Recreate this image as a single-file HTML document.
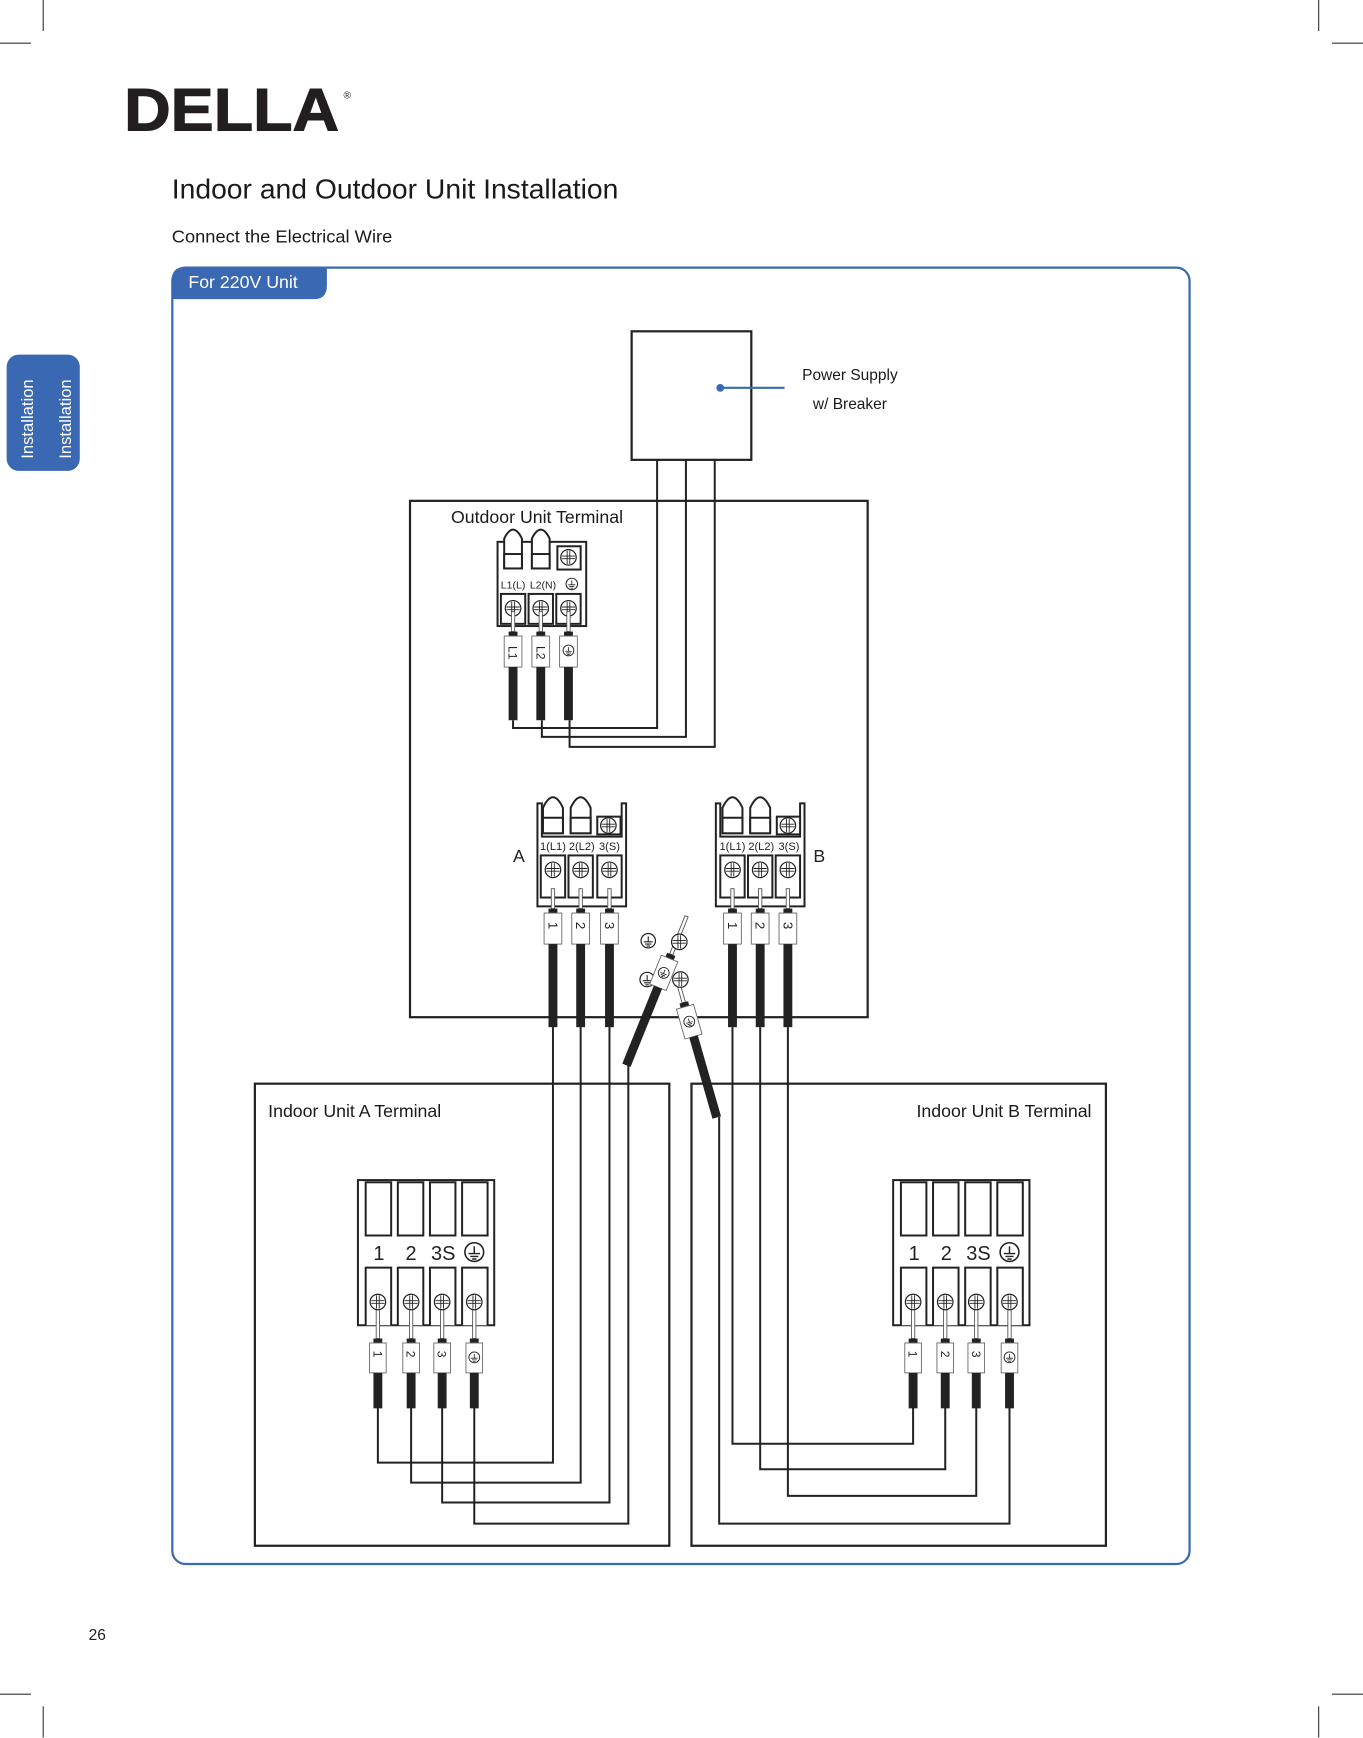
<!DOCTYPE html>
<html><head><meta charset="utf-8"><style>
html,body{margin:0;padding:0;background:#fff}
svg{display:block}
text{font-family:"Liberation Sans",Arial,sans-serif}
</style></head><body>
<svg width="1363" height="1738" viewBox="0 0 1230 1568.5" preserveAspectRatio="none" xmlns="http://www.w3.org/2000/svg">
<defs>
<g id="scr"><circle r="7" fill="#fff" stroke="#222" stroke-width="1.1"/><path d="M-6 -1.2H6M-6 1.2H6M-1.2 -6V6M1.2 -6V6" stroke="#222" stroke-width="0.8" fill="none"/></g>
<g id="gnd"><circle r="6.5" fill="#fff" stroke="#222" stroke-width="1.1"/><path d="M0 -4V1M-4 1H4M-2.8 3H2.8M-1.5 4.8H1.5" stroke="#222" stroke-width="1" fill="none"/></g>
<g id="lead"><rect x="-1.5" y="-22" width="3" height="18" fill="#fff" stroke="#555" stroke-width="0.8"/><rect x="-4" y="-4" width="8" height="4" fill="#222"/><rect x="-8" y="0" width="16" height="28" fill="#fff" stroke="#666" stroke-width="0.8"/></g>
<g id="ilead"><rect x="-1.5" y="-30" width="3" height="26" fill="#fff" stroke="#555" stroke-width="0.8"/><rect x="-4" y="-4" width="8" height="4" fill="#222"/><rect x="-7.5" y="0" width="15" height="27" fill="#fff" stroke="#666" stroke-width="0.8"/><rect x="-4" y="27" width="8" height="32" fill="#222"/></g>
</defs>

<g stroke="#333" stroke-width="1">
<path d="M39 0V28M0 39H28M1190 0V28M1202 39H1230M0 1529H28M39 1540V1568M1202 1529H1230M1190 1540V1568"/>
</g>

<text x="112" y="118" font-size="54" font-weight="bold" fill="#231f20" stroke="#231f20" stroke-width="1" textLength="194" lengthAdjust="spacingAndGlyphs">DELLA</text>
<text x="310" y="89" font-size="9" fill="#231f20">®</text>

<text x="155" y="179" font-size="25" fill="#1a1a1a" textLength="403" lengthAdjust="spacingAndGlyphs">Indoor and Outdoor Unit Installation</text>
<text x="155" y="219" font-size="16" fill="#1a1a1a" textLength="199" lengthAdjust="spacingAndGlyphs">Connect the Electrical Wire</text>

<rect x="6" y="320" width="66" height="105" rx="11" fill="#3a68b2"/>
<text transform="translate(30,414) rotate(-90)" font-size="15" fill="#fff">Installation</text>
<text transform="translate(64,414) rotate(-90)" font-size="15" fill="#fff">Installation</text>

<rect x="155.5" y="241.5" width="918" height="1170" rx="12" fill="none" stroke="#3a68b2" stroke-width="2"/>
<path d="M155 270V253Q155 241 167 241H295V258Q295 270 283 270Z" fill="#3a68b2"/>
<text x="170" y="260" font-size="16" fill="#fff">For 220V Unit</text>

<text x="80" y="1480" font-size="14" fill="#222">26</text>

<g fill="none" stroke="#222" stroke-width="2">
<rect x="570" y="299" width="108" height="116"/>
<rect x="370" y="452" width="413" height="466"/>
<rect x="230" y="978" width="374" height="417"/>
<rect x="624" y="978" width="374" height="417"/>
</g>
<line x1="650" y1="350" x2="708" y2="350" stroke="#3a68b2" stroke-width="2"/>
<circle cx="650" cy="350" r="3.5" fill="#3a68b2"/>
<text x="767" y="343" font-size="14" text-anchor="middle" fill="#1a1a1a">Power Supply</text>
<text x="767" y="369" font-size="14" text-anchor="middle" fill="#1a1a1a">w/ Breaker</text>

<text x="407" y="472" font-size="16" fill="#1a1a1a">Outdoor Unit Terminal</text>
<text x="242" y="1008" font-size="16" fill="#1a1a1a">Indoor Unit A Terminal</text>
<text x="985" y="1008" font-size="16" fill="#1a1a1a" text-anchor="end">Indoor Unit B Terminal</text>

<g fill="none" stroke="#222" stroke-width="1.8">
<path d="M593 415V657H463V650"/>
<path d="M619 415V665H489V650"/>
<path d="M645 415V674H514V650"/>
<path d="M341 1270V1320H499V927"/>
<path d="M371 1270V1338H524V927"/>
<path d="M399 1270V1356H550V927"/>
<path d="M428 1270V1375H567V961"/>
<path d="M824 1270V1303H661V927"/>
<path d="M853 1270V1326H686V927"/>
<path d="M881 1270V1350H711V927"/>
<path d="M911 1270V1375H649V1008"/>
</g>

<g stroke="#222" stroke-width="1.8" fill="#fff">
<rect x="449" y="489" width="80" height="76"/>
<path d="M455 513V486Q463 470 471 486V513Z"/><rect x="455" y="500" width="16" height="13"/>
<path d="M480 513V486Q488 470 496 486V513Z"/><rect x="480" y="500" width="16" height="13"/>
<rect x="503" y="493" width="21" height="21"/>
<rect x="452" y="536" width="22" height="27"/><rect x="477" y="536" width="22" height="27"/><rect x="502" y="536" width="22" height="27"/>
</g>
<use href="#scr" x="513" y="503"/>
<use href="#scr" x="463" y="549"/><use href="#scr" x="488" y="549"/><use href="#scr" x="513" y="549"/>
<text x="463" y="531" font-size="9.5" text-anchor="middle" fill="#222">L1(L)</text>
<text x="490" y="531" font-size="9.5" text-anchor="middle" fill="#222">L2(N)</text>
<use href="#gnd" x="516" y="527" transform="translate(516 527) scale(0.8) translate(-516 -527)"/>
<g><use href="#lead" x="463" y="574"/><use href="#lead" x="488" y="574"/><use href="#lead" x="513" y="574"/></g>
<rect x="459" y="602" width="8" height="48" fill="#222"/>
<rect x="484" y="602" width="8" height="48" fill="#222"/>
<rect x="509" y="602" width="8" height="48" fill="#222"/>
<text transform="translate(459 583) rotate(90)" font-size="11" fill="#222">L1</text>
<text transform="translate(484 583) rotate(90)" font-size="11" fill="#222">L2</text>
<use href="#gnd" x="513" y="587" transform="translate(513 587) scale(0.75) translate(-513 -587)"/>

<g stroke="#222" stroke-width="1.8" fill="#fff">
<path d="M485 818V725H489V755H561V725H565V818Z"/>
<path d="M490 752V729Q499 710 508 729V752Z"/><rect x="490" y="738" width="18" height="14"/>
<path d="M515 752V729Q524 710 533 729V752Z"/><rect x="515" y="738" width="18" height="14"/>
<rect x="539" y="737" width="21" height="16"/>
<rect x="488" y="772" width="22" height="38"/><rect x="513" y="772" width="22" height="38"/><rect x="539" y="772" width="22" height="38"/>
</g>
<use href="#scr" x="549" y="745"/>
<use href="#scr" x="499" y="785"/><use href="#scr" x="524" y="785"/><use href="#scr" x="550" y="785"/>
<text x="499" y="767" font-size="10" text-anchor="middle" fill="#222">1(L1)</text>
<text x="525" y="767" font-size="10" text-anchor="middle" fill="#222">2(L2)</text>
<text x="550" y="767" font-size="10" text-anchor="middle" fill="#222">3(S)</text>
<text x="463" y="778" font-size="16" fill="#222">A</text>

<g stroke="#222" stroke-width="1.8" fill="#fff">
<path d="M646 818V725H650V755H722V725H726V818Z"/>
<path d="M652 752V729Q661 710 670 729V752Z"/><rect x="652" y="738" width="18" height="14"/>
<path d="M677 752V729Q686 710 695 729V752Z"/><rect x="677" y="738" width="18" height="14"/>
<rect x="701" y="737" width="21" height="16"/>
<rect x="650" y="772" width="22" height="38"/><rect x="675" y="772" width="22" height="38"/><rect x="700" y="772" width="22" height="38"/>
</g>
<use href="#scr" x="711" y="745"/>
<use href="#scr" x="661" y="785"/><use href="#scr" x="686" y="785"/><use href="#scr" x="711" y="785"/>
<text x="661" y="767" font-size="10" text-anchor="middle" fill="#222">1(L1)</text>
<text x="687" y="767" font-size="10" text-anchor="middle" fill="#222">2(L2)</text>
<text x="712" y="767" font-size="10" text-anchor="middle" fill="#222">3(S)</text>
<text x="734" y="778" font-size="16" fill="#222">B</text>

<use href="#lead" x="499" y="824"/><use href="#lead" x="524" y="824"/><use href="#lead" x="550" y="824"/>
<use href="#lead" x="661" y="824"/><use href="#lead" x="686" y="824"/><use href="#lead" x="711" y="824"/>
<g fill="#222">
<rect x="495" y="852" width="8" height="75"/><rect x="520" y="852" width="8" height="75"/><rect x="546" y="852" width="8" height="75"/>
<rect x="657" y="852" width="8" height="75"/><rect x="682" y="852" width="8" height="75"/><rect x="707" y="852" width="8" height="75"/>
</g>
<g font-size="12" fill="#222">
<text transform="translate(495 832) rotate(90)">1</text><text transform="translate(520 832) rotate(90)">2</text><text transform="translate(546 832) rotate(90)">3</text>
<text transform="translate(657 832) rotate(90)">1</text><text transform="translate(682 832) rotate(90)">2</text><text transform="translate(707 832) rotate(90)">3</text>
</g>

<use href="#gnd" x="585" y="849"/><use href="#gnd" x="584" y="884"/>
<g transform="translate(599 878) rotate(22)">
<rect x="-1.5" y="-55" width="3" height="37" fill="#fff" stroke="#555" stroke-width="0.8"/>
<rect x="-4" y="-18" width="8" height="4" fill="#222"/>
<rect x="-8" y="-14" width="16" height="28" fill="#fff" stroke="#666" stroke-width="0.8"/>
<rect x="-4" y="14" width="8" height="76" fill="#222"/>
<use href="#gnd" x="0" y="0" transform="scale(0.75)"/>
</g>
<use href="#scr" x="613" y="850"/>
<g transform="translate(622 922) rotate(-16)">
<rect x="-1.5" y="-40" width="3" height="22" fill="#fff" stroke="#555" stroke-width="0.8"/>
<rect x="-4" y="-18" width="8" height="4" fill="#222"/>
<rect x="-8" y="-14" width="16" height="28" fill="#fff" stroke="#666" stroke-width="0.8"/>
<rect x="-4" y="14" width="8" height="76" fill="#222"/>
<use href="#gnd" x="0" y="0" transform="scale(0.75)"/>
</g>
<use href="#scr" x="614" y="884"/>

<g stroke="#222" stroke-width="1.8" fill="#fff">
<rect x="323" y="1065" width="123" height="131"/>
<rect x="330" y="1067" width="23" height="48"/><rect x="359" y="1067" width="23" height="48"/><rect x="388" y="1067" width="23" height="48"/><rect x="417" y="1067" width="23" height="48"/>
<path d="M330 1196V1144H353V1196M359 1196V1144H382V1196M388 1196V1144H411V1196M417 1196V1144H440V1196"/>
</g>
<g font-size="18" fill="#222" text-anchor="middle">
<text x="342" y="1137">1</text><text x="371" y="1137">2</text><text x="400" y="1137">3S</text>
</g>
<use href="#gnd" x="428" y="1130" transform="translate(428 1130) scale(1.3) translate(-428 -1130)"/>
<use href="#ilead" x="341" y="1212"/><use href="#ilead" x="371" y="1212"/><use href="#ilead" x="399" y="1212"/><use href="#ilead" x="428" y="1212"/>
<use href="#scr" x="341" y="1175"/><use href="#scr" x="371" y="1175"/><use href="#scr" x="399" y="1175"/><use href="#scr" x="428" y="1175"/>
<g font-size="11" fill="#222">
<text transform="translate(337 1219) rotate(90)">1</text><text transform="translate(367 1219) rotate(90)">2</text><text transform="translate(395 1219) rotate(90)">3</text>
</g>
<use href="#gnd" x="428" y="1225" transform="translate(428 1225) scale(0.75) translate(-428 -1225)"/>

<g stroke="#222" stroke-width="1.8" fill="#fff">
<rect x="806" y="1065" width="123" height="131"/>
<rect x="813" y="1067" width="23" height="48"/><rect x="842" y="1067" width="23" height="48"/><rect x="871" y="1067" width="23" height="48"/><rect x="900" y="1067" width="23" height="48"/>
<path d="M813 1196V1144H836V1196M842 1196V1144H865V1196M871 1196V1144H894V1196M900 1196V1144H923V1196"/>
</g>
<g font-size="18" fill="#222" text-anchor="middle">
<text x="825" y="1137">1</text><text x="854" y="1137">2</text><text x="883" y="1137">3S</text>
</g>
<use href="#gnd" x="911" y="1130" transform="translate(911 1130) scale(1.3) translate(-911 -1130)"/>
<use href="#ilead" x="824" y="1212"/><use href="#ilead" x="853" y="1212"/><use href="#ilead" x="881" y="1212"/><use href="#ilead" x="911" y="1212"/>
<use href="#scr" x="824" y="1175"/><use href="#scr" x="853" y="1175"/><use href="#scr" x="881" y="1175"/><use href="#scr" x="911" y="1175"/>
<g font-size="11" fill="#222">
<text transform="translate(820 1219) rotate(90)">1</text><text transform="translate(849 1219) rotate(90)">2</text><text transform="translate(877 1219) rotate(90)">3</text>
</g>
<use href="#gnd" x="911" y="1225" transform="translate(911 1225) scale(0.75) translate(-911 -1225)"/>
</svg>
</body></html>
